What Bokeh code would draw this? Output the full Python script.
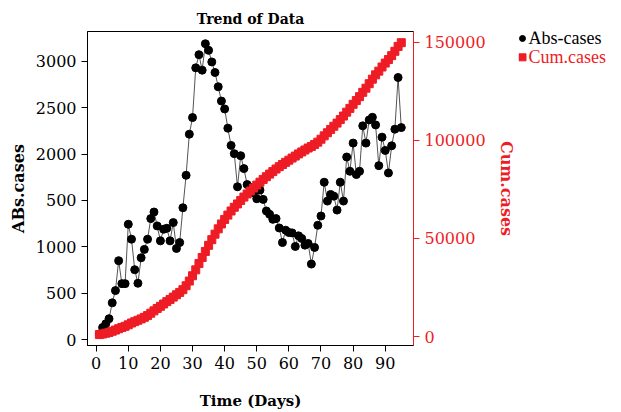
from bokeh.plotting import figure
from bokeh.layouts import row
from bokeh.models import (Range1d, LinearAxis, FixedTicker, BasicTickFormatter)
from bokeh.core.properties import value
from bokeh.embed import file_html
from bokeh.resources import INLINE

days = list(range(1, 96))
abs_cases = [60, 130, 170, 225, 396, 528, 850, 603, 603, 1243,
             1082, 753, 607, 882, 972, 1082, 1304, 1375, 1225, 1064,
             1189, 1200, 1064, 1261, 982, 1046, 1421, 1771, 2214, 2393,
             2929, 3071, 2904, 3189, 3118, 2993, 2879, 2725, 2571, 2486,
             2279, 2093, 2004, 1647, 1982, 1843, 1671, 1640, 1582, 1518,
             1611, 1511, 1386, 1350, 1296, 1304, 1203, 1046, 1179, 1154,
             1150, 1004, 1118, 1090, 1018, 1036, 814, 993, 1232, 1332,
             1696, 1493, 1564, 1546, 1396, 1696, 1493, 1968, 1814, 2118,
             1779, 1814, 2304, 2118, 2368, 2396, 2314, 1875, 2182, 2039,
             1796, 2089, 2268, 2825, 2285]
cum_cases = [1000, 1300, 1700, 2100, 2700, 3300, 4000, 4600, 5200, 6000,
             6900, 7600, 8300, 9000, 9800, 10700, 11900, 13100, 14300, 15400,
             16600, 17800, 18900, 20100, 21300, 22500, 23900, 25900, 28300, 31000,
             34000, 37200, 40300, 43400, 46500, 49400, 52200, 54900, 57400, 59700,
             61900, 64000, 65900, 67600, 69400, 71100, 72700, 74200, 75700, 77200,
             78700, 80100, 81500, 82800, 84100, 85400, 86600, 87700, 88800, 89900,
             91000, 92000, 93100, 94100, 95100, 96100, 96900, 97900, 99100, 100600,
             102300, 103900, 105600, 107200, 108800, 110600, 112400, 114400, 116300, 118400,
             120300, 122300, 124500, 126600, 128900, 131200, 133400, 135300, 137400, 139400,
             141200, 143200, 145400, 147900, 149800]

x_ticks = [0, 10, 20, 30, 40, 50, 60, 70, 80, 90]
left_ticks = [0, 500, 1000, 1500, 2000, 2500, 3000]
left_tick_labels = ["0", "500", "1000", "500", "2000", "2500", "3000"]
right_ticks = [0, 50000, 100000, 150000]
series_names = ["Abs-cases", "Cum.cases"]

RED = "#EE1C25"
FONT = "DejaVu Serif"
MAIN_W = 518
H = 412
FRAME_TOP, FRAME_BOTTOM = 31, 347

p = figure(width=MAIN_W, height=H, output_backend="svg", toolbar_location=None,
           x_range=Range1d(-2.7, 98.8), y_range=Range1d(-64, 3321),
           min_border_left=87, min_border_right=MAIN_W - 422, min_border_top=FRAME_TOP,
           min_border_bottom=H - FRAME_BOTTOM)
p.extra_y_ranges = {"cum": Range1d(-4560, 155500)}

p.title.text = "Trend of Data"
p.title.align = "center"
p.title.text_font = FONT
p.title.text_font_size = "14px"
p.title.text_font_style = "bold"
p.title.text_color = "black"

p.xgrid.visible = False
p.ygrid.visible = False
p.outline_line_color = "black"
p.outline_line_alpha = 1

def style_axis(ax, color):
    ax.axis_line_color = color
    ax.major_tick_line_color = color
    ax.minor_tick_line_color = None
    ax.major_tick_out = 6
    ax.major_tick_in = 0
    ax.major_label_text_font = FONT
    ax.major_label_text_font_size = "16px"
    ax.major_label_text_color = color
    ax.axis_label_text_font = FONT
    ax.axis_label_text_font_style = "bold"
    ax.axis_label_text_color = color

xa = p.xaxis[0]
style_axis(xa, "black")
xa.ticker = FixedTicker(ticks=x_ticks)
xa.axis_label = "Time (Days)"
xa.axis_label_text_font_size = "15px"
xa.axis_label_standoff = 20

ya = p.yaxis[0]
style_axis(ya, "black")
ya.ticker = FixedTicker(ticks=left_ticks)
ya.major_label_overrides = {v: s for v, s in zip(left_ticks, left_tick_labels)}
ya.axis_label = "ABs.cases"
ya.axis_label_text_font_size = "16px"
ya.axis_label_standoff = 5

ra = LinearAxis(y_range_name="cum")
style_axis(ra, RED)
ra.ticker = FixedTicker(ticks=right_ticks)
ra.formatter = BasicTickFormatter(use_scientific=False)
ra.axis_label = "Cum.cases"
ra.axis_label_text_font_size = "16px"
ra.axis_label_standoff = 8
p.add_layout(ra, "right")

p.line(days, abs_cases, line_color="black", line_width=0.8, line_alpha=0.85)
p.scatter(days, abs_cases, marker="circle", size=8, color="black")
p.scatter(days, cum_cases, marker="square", size=8, color=RED, y_range_name="cum")

# legend strip: its frame is aligned with the main frame; y grows downward in px
LW = 621 - MAIN_W
q = figure(width=LW, height=H, output_backend="svg", toolbar_location=None,
           x_range=Range1d(0, LW), y_range=Range1d(FRAME_BOTTOM, FRAME_TOP),
           x_axis_location=None, y_axis_location=None, min_border=0,
           outline_line_color=None)
q.xgrid.visible = False
q.ygrid.visible = False
key_x = [4]
label_x = [10]
row_y = [38, 57]
q.scatter(key_x, row_y[:1], marker="circle", size=6, color="black")
q.scatter(key_x, row_y[1:], marker="square", size=7, color=RED)
q.text(label_x, row_y[:1], text=[series_names[0]], text_font=value("serif"),
       text_font_size="18px", text_baseline="middle", text_align="left",
       text_color="black")
q.text(label_x, row_y[1:], text=[series_names[1]], text_font=value("serif"),
       text_font_size="18px", text_baseline="middle", text_align="left",
       text_color=RED)

layout = row(p, q)
open("out.html", "w").write(file_html(layout, INLINE))
